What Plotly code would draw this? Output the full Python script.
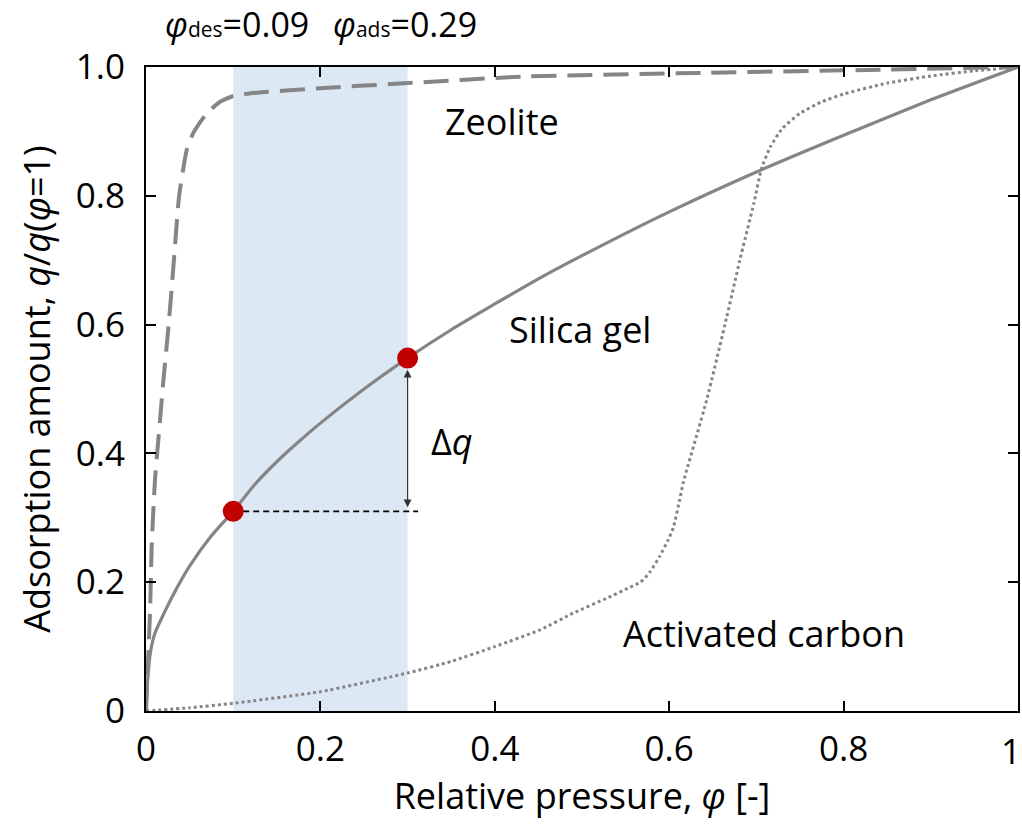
import plotly.graph_objects as go

# Relative pressure (phi) and normalised uptake q/q(phi=1) for each adsorbent
zeolite_x = [0, 0.0027, 0.0046, 0.0065, 0.0103, 0.016, 0.02, 0.026, 0.032, 0.038,
             0.0467, 0.054, 0.0696, 0.085, 0.1, 0.119, 0.2, 0.3, 0.43, 0.643, 0.85, 1.0]
zeolite_y = [0, 0.09, 0.152, 0.255, 0.359, 0.45, 0.514, 0.6, 0.7, 0.8,
             0.871, 0.897, 0.928, 0.946, 0.955, 0.959, 0.967, 0.975, 0.985, 0.991, 0.996, 1.0]

silica_x = [0, 0.002, 0.005, 0.01, 0.02, 0.035, 0.05, 0.075, 0.1, 0.125, 0.15, 0.175, 0.2,
            0.25, 0.3, 0.35, 0.4, 0.45, 0.5, 0.6, 0.7, 0.8, 0.9, 1.0]
silica_y = [0, 0.05, 0.09, 0.12, 0.15, 0.19, 0.225, 0.272, 0.31, 0.352, 0.387, 0.418, 0.447,
            0.5, 0.548, 0.592, 0.632, 0.671, 0.707, 0.775, 0.837, 0.894, 0.949, 1.0]

carbon_x = [0, 0.05, 0.1, 0.2, 0.3, 0.35, 0.4, 0.452, 0.49, 0.528, 0.555, 0.567, 0.578,
            0.589, 0.599, 0.605, 0.612, 0.616, 0.643, 0.666, 0.681, 0.697, 0.706, 0.716,
            0.73, 0.75, 0.775, 0.8, 0.85, 0.9, 0.95, 1.0]
carbon_y = [0, 0.005, 0.012, 0.03, 0.059, 0.077, 0.1, 0.126, 0.152, 0.175, 0.192, 0.2, 0.216,
            0.24, 0.266, 0.286, 0.328, 0.354, 0.483, 0.612, 0.70, 0.788, 0.843, 0.876,
            0.905, 0.928, 0.946, 0.958, 0.975, 0.986, 0.994, 1.0]

# Operating window of the cycle and the silica-gel uptake at its ends
phi_des, phi_ads = 0.1, 0.3
q_des, q_ads = 0.31, 0.548
dq_line_end = 0.312

x_tickvals = [0, 0.2, 0.4, 0.6, 0.8, 1.0]
x_ticktext = ["0", "0.2", "0.4", "0.6", "0.8", ""]
x_last_label = "1"
y_tickvals = [0, 0.2, 0.4, 0.6, 0.8, 1.0]
y_ticktext = ["0", "0.2", "0.4", "0.6", "0.8", "1.0"]

FONT = "Open Sans"
GRAY = "#858585"

fig = go.Figure()

fig.add_trace(go.Scatter(x=zeolite_x, y=zeolite_y, mode="lines",
                         line=dict(color=GRAY, width=4, dash="25px,11px", shape="spline", smoothing=0.5)))
fig.add_trace(go.Scatter(x=silica_x, y=silica_y, mode="lines",
                         line=dict(color=GRAY, width=3.2, shape="spline", smoothing=0.6)))
fig.add_trace(go.Scatter(x=carbon_x, y=carbon_y, mode="lines",
                         line=dict(color=GRAY, width=3, dash="3px,3px", shape="spline", smoothing=0.5)))

# Horizontal reference line at the desorption-end uptake
fig.add_trace(go.Scatter(x=[phi_des, dq_line_end], y=[q_des, q_des], mode="lines",
                         line=dict(color="black", width=1.6, dash="6px,4px")))

# Uptake at the two cycle ends
fig.add_trace(go.Scatter(x=[phi_des, phi_ads], y=[q_des, q_ads], mode="markers",
                         marker=dict(color="#C00000", size=21)))

# Shaded operating window
fig.add_shape(type="rect", xref="x", yref="paper", x0=phi_des, x1=phi_ads, y0=0, y1=1,
              fillcolor="#DDE8F5", line=dict(width=0), layer="below")

ann_font = dict(family=FONT, size=36, color="black")
annotations = [
    dict(x=0.408, y=0.916, text="Zeolite"),
    dict(x=0.498, y=0.592, text="Silica gel"),
    dict(x=0.709, y=0.121, text="Activated carbon"),
    dict(x=0.351, y=0.419, text="Δ<i>q</i>"),
]
for a in annotations:
    fig.add_annotation(x=a["x"], y=a["y"], xref="x", yref="y", text=a["text"],
                       showarrow=False, font=ann_font, xanchor="center", yanchor="middle")

# Double-headed arrow marking the uptake difference
fig.add_annotation(x=phi_ads, y=q_ads - 0.018, ax=phi_ads, ay=q_des + 0.004,
                   xref="x", yref="y", axref="x", ayref="y", text="",
                   showarrow=True, arrowhead=2, startarrowhead=2, arrowside="end+start",
                   arrowsize=1.3, startarrowsize=1.3, arrowwidth=1.2, arrowcolor="#333333")

# Cycle pressures written above the frame
top_font = dict(family=FONT, size=34, color="black")
fig.add_annotation(x=0.019, y=1.066, xref="x", yref="paper", xanchor="left", yanchor="middle",
                   showarrow=False, font=top_font,
                   text="<i>φ</i><span style='font-size:21px'>des</span>=0.09")
fig.add_annotation(x=0.212, y=1.066, xref="x", yref="paper", xanchor="left", yanchor="middle",
                   showarrow=False, font=top_font,
                   text="<i>φ</i><span style='font-size:21px'>ads</span>=0.29")

# Last x tick label, kept right-aligned so it stays inside the figure
fig.add_annotation(x=x_tickvals[-1], y=-0.061, xref="x", yref="paper", xanchor="right",
                   yanchor="middle", xshift=5, showarrow=False,
                   font=dict(family=FONT, size=35, color="black"), text=x_last_label)

axis_common = dict(showgrid=False, zeroline=False, showline=True, linecolor="black", linewidth=2,
                   mirror="ticks", ticks="inside", ticklen=10, tickwidth=2, tickcolor="black",
                   tickfont=dict(family=FONT, size=35, color="black"))

fig.update_xaxes(range=[0, 1], tickvals=x_tickvals, ticktext=x_ticktext,
                 title=dict(text="Relative pressure, <i>φ</i> [-]",
                            font=dict(family=FONT, size=36, color="black"), standoff=8),
                 ticklabelstandoff=6, **axis_common)
fig.update_yaxes(range=[0, 1], tickvals=y_tickvals, ticktext=y_ticktext,
                 title=dict(text="Adsorption amount, <i>q</i>/<i>q</i>(<i>φ</i>=1)",
                            font=dict(family=FONT, size=36, color="black"), standoff=14),
                 ticklabelstandoff=12, **axis_common)

fig.update_layout(width=1022, height=829, showlegend=False,
                  plot_bgcolor="white", paper_bgcolor="white",
                  margin=dict(l=146, r=4, t=67, b=118, autoexpand=False),
                  font=dict(family=FONT))

fig.write_html("out.html")
